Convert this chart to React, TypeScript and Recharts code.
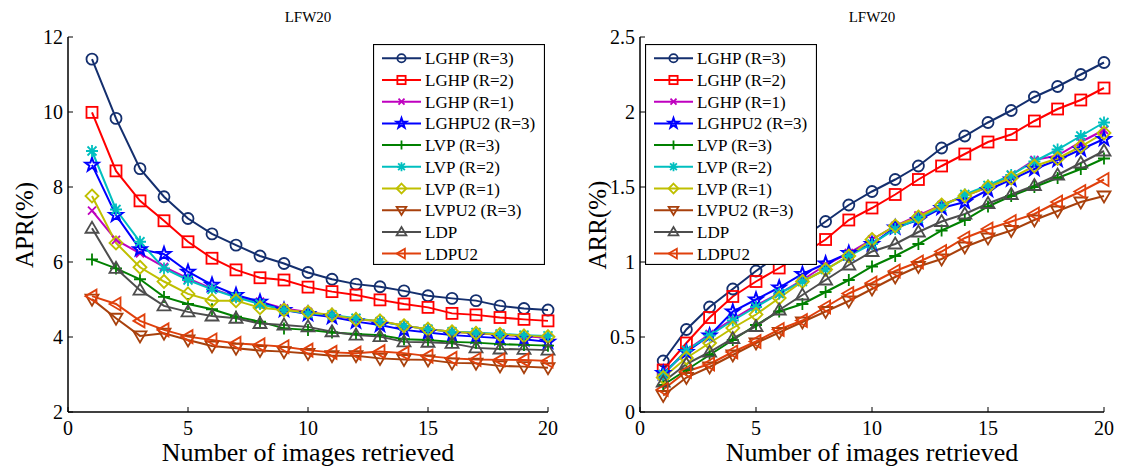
import { LineChart, Line, XAxis, YAxis, Legend } from 'recharts'

const FONT = '"Liberation Serif", "Times New Roman", serif'

const retrieved = [1, 2, 3, 4, 5, 6, 7, 8, 9, 10, 11, 12, 13, 14, 15, 16, 17, 18, 19, 20]
const xTicks = [0, 5, 10, 15, 20]
const aprTicks = [2, 4, 6, 8, 10, 12]
const arrTicks = [0, 0.5, 1, 1.5, 2, 2.5]

// APR (%) on LFW20
const aprLGHP3 = [11.41, 9.83, 8.49, 7.74, 7.16, 6.75, 6.45, 6.16, 5.96, 5.72, 5.54, 5.41, 5.34, 5.23, 5.1, 5.03, 4.97, 4.83, 4.76, 4.72]
const aprLGHP2 = [9.99, 8.43, 7.63, 7.1, 6.54, 6.1, 5.79, 5.58, 5.52, 5.33, 5.21, 5.12, 4.99, 4.88, 4.79, 4.63, 4.59, 4.52, 4.47, 4.43]
const aprLGHP1 = [7.37, 6.59, 6.23, 5.87, 5.56, 5.29, 5.07, 4.94, 4.76, 4.67, 4.57, 4.47, 4.42, 4.3, 4.21, 4.14, 4.1, 4.06, 4.02, 3.98]
const aprLGHPU2 = [8.59, 7.25, 6.34, 6.21, 5.74, 5.39, 5.12, 4.94, 4.72, 4.61, 4.53, 4.41, 4.32, 4.19, 4.12, 4.05, 4.01, 3.97, 3.94, 3.87]
const aprLVP3 = [6.07, 5.83, 5.54, 5.07, 4.88, 4.74, 4.54, 4.41, 4.23, 4.19, 4.12, 4.08, 4.05, 3.94, 3.92, 3.87, 3.85, 3.81, 3.79, 3.77]
const aprLVP2 = [8.96, 7.4, 6.54, 5.83, 5.52, 5.27, 5.06, 4.88, 4.72, 4.63, 4.59, 4.5, 4.41, 4.3, 4.21, 4.14, 4.12, 4.08, 4.05, 4.03]
const aprLVP1 = [7.76, 6.51, 5.86, 5.48, 5.15, 4.97, 4.97, 4.78, 4.72, 4.66, 4.59, 4.47, 4.43, 4.3, 4.21, 4.14, 4.1, 4.07, 4.03, 4.01]
const aprLVPU2 = [5.01, 4.5, 4.03, 4.1, 3.92, 3.76, 3.7, 3.64, 3.61, 3.56, 3.5, 3.5, 3.43, 3.4, 3.39, 3.31, 3.3, 3.23, 3.21, 3.18]
const aprLDP = [6.9, 5.83, 5.25, 4.83, 4.67, 4.56, 4.5, 4.36, 4.32, 4.27, 4.14, 4.05, 4.01, 3.87, 3.86, 3.83, 3.71, 3.68, 3.67, 3.65]
const aprLDPU2 = [5.09, 4.88, 4.43, 4.19, 4.01, 3.92, 3.83, 3.79, 3.74, 3.65, 3.59, 3.57, 3.61, 3.57, 3.49, 3.43, 3.4, 3.39, 3.39, 3.36]

// ARR (%) on LFW20
const arrLGHP3 = [0.34, 0.55, 0.7, 0.82, 0.94, 1.05, 1.16, 1.27, 1.38, 1.47, 1.55, 1.64, 1.76, 1.84, 1.93, 2.01, 2.1, 2.17, 2.25, 2.33]
const arrLGHP2 = [0.28, 0.46, 0.63, 0.77, 0.87, 0.96, 1.05, 1.15, 1.28, 1.36, 1.45, 1.55, 1.64, 1.72, 1.8, 1.85, 1.94, 2.02, 2.08, 2.16]
const arrLGHP1 = [0.25, 0.41, 0.52, 0.62, 0.71, 0.79, 0.88, 0.98, 1.06, 1.15, 1.24, 1.31, 1.38, 1.44, 1.5, 1.58, 1.68, 1.71, 1.8, 1.88]
const arrLGHPU2 = [0.26, 0.4, 0.51, 0.67, 0.75, 0.83, 0.92, 0.99, 1.06, 1.12, 1.23, 1.28, 1.36, 1.4, 1.48, 1.55, 1.62, 1.68, 1.75, 1.82]
const arrLVP3 = [0.18, 0.28, 0.38, 0.48, 0.58, 0.67, 0.72, 0.8, 0.88, 0.97, 1.04, 1.12, 1.21, 1.28, 1.37, 1.44, 1.5, 1.56, 1.62, 1.69]
const arrLVP2 = [0.25, 0.41, 0.51, 0.61, 0.7, 0.79, 0.87, 0.95, 1.04, 1.12, 1.22, 1.29, 1.37, 1.45, 1.51, 1.58, 1.67, 1.75, 1.84, 1.93]
const arrLVP1 = [0.23, 0.36, 0.46, 0.56, 0.65, 0.76, 0.87, 0.95, 1.04, 1.15, 1.24, 1.3, 1.38, 1.44, 1.5, 1.56, 1.64, 1.69, 1.77, 1.86]
const arrLVPU2 = [0.11, 0.23, 0.3, 0.38, 0.46, 0.53, 0.6, 0.67, 0.74, 0.82, 0.9, 0.97, 1.02, 1.1, 1.16, 1.21, 1.28, 1.34, 1.4, 1.44]
const arrLDP = [0.2, 0.32, 0.4, 0.49, 0.57, 0.68, 0.78, 0.88, 0.98, 1.07, 1.12, 1.2, 1.27, 1.32, 1.39, 1.45, 1.51, 1.58, 1.66, 1.74]
const arrLDPU2 = [0.15, 0.27, 0.32, 0.4, 0.47, 0.55, 0.61, 0.7, 0.79, 0.86, 0.94, 1.0, 1.07, 1.16, 1.22, 1.27, 1.32, 1.4, 1.47, 1.55]

const series = [
  { key: 'LGHP3', name: 'LGHP (R=3)', color: '#142f6e', shape: 'circle', apr: aprLGHP3, arr: arrLGHP3 },
  { key: 'LGHP2', name: 'LGHP (R=2)', color: '#ff0000', shape: 'square', apr: aprLGHP2, arr: arrLGHP2 },
  { key: 'LGHP1', name: 'LGHP (R=1)', color: '#bf00bf', shape: 'x', apr: aprLGHP1, arr: arrLGHP1 },
  { key: 'LGHPU2', name: 'LGHPU2 (R=3)', color: '#0000ff', shape: 'star', apr: aprLGHPU2, arr: arrLGHPU2 },
  { key: 'LVP3', name: 'LVP (R=3)', color: '#008000', shape: 'plus', apr: aprLVP3, arr: arrLVP3 },
  { key: 'LVP2', name: 'LVP (R=2)', color: '#00bfbf', shape: 'asterisk', apr: aprLVP2, arr: arrLVP2 },
  { key: 'LVP1', name: 'LVP (R=1)', color: '#bfbf00', shape: 'diamond', apr: aprLVP1, arr: arrLVP1 },
  { key: 'LVPU2', name: 'LVPU2 (R=3)', color: '#a8400c', shape: 'triDown', apr: aprLVPU2, arr: arrLVPU2 },
  { key: 'LDP', name: 'LDP', color: '#4d4d4d', shape: 'triUp', apr: aprLDP, arr: arrLDP },
  { key: 'LDPU2', name: 'LDPU2', color: '#e0400c', shape: 'triLeft', apr: aprLDPU2, arr: arrLDPU2 },
]

const aprData = retrieved.map((n, i) => {
  const row: any = { n }
  series.forEach((s) => (row[s.key] = s.apr[i]))
  return row
})
const arrData = retrieved.map((n, i) => {
  const row: any = { n }
  series.forEach((s) => (row[s.key] = s.arr[i]))
  return row
})

function Marker({ shape, cx, cy, color, k = 1 }: any) {
  const p = { fill: 'none', stroke: color, strokeWidth: 1.8 }
  const r = 5.5 * k
  switch (shape) {
    case 'circle':
      return <circle cx={cx} cy={cy} r={r} {...p} />
    case 'square':
      return <rect x={cx - r} y={cy - r} width={2 * r} height={2 * r} {...p} />
    case 'x':
      return <path d={`M${cx - 4 * k},${cy - 4 * k}L${cx + 4 * k},${cy + 4 * k}M${cx - 4 * k},${cy + 4 * k}L${cx + 4 * k},${cy - 4 * k}`} {...p} />
    case 'plus':
      return <path d={`M${cx - 6 * k},${cy}L${cx + 6 * k},${cy}M${cx},${cy - 6 * k}L${cx},${cy + 6 * k}`} {...p} />
    case 'asterisk':
      return (
        <path
          d={`M${cx - 6 * k},${cy}L${cx + 6 * k},${cy}M${cx},${cy - 6 * k}L${cx},${cy + 6 * k}M${cx - 4.5 * k},${cy - 4.5 * k}L${cx + 4.5 * k},${cy + 4.5 * k}M${cx - 4.5 * k},${cy + 4.5 * k}L${cx + 4.5 * k},${cy - 4.5 * k}`}
          {...p}
        />
      )
    case 'star': {
      const pts = []
      for (let i = 0; i < 10; i++) {
        const rad = i % 2 === 0 ? 7 * k : 2.8 * k
        const a = -Math.PI / 2 + (i * Math.PI) / 5
        pts.push(`${cx + rad * Math.cos(a)},${cy + rad * Math.sin(a)}`)
      }
      return <polygon points={pts.join(' ')} {...p} strokeWidth={2} />
    }
    case 'diamond':
      return <polygon points={`${cx},${cy - 6.5 * k} ${cx + 6.5 * k},${cy} ${cx},${cy + 6.5 * k} ${cx - 6.5 * k},${cy}`} {...p} />
    case 'triDown':
      return <polygon points={`${cx - 6.5 * k},${cy - 4.5 * k} ${cx + 6.5 * k},${cy - 4.5 * k} ${cx},${cy + 6.5 * k}`} {...p} />
    case 'triUp':
      return <polygon points={`${cx - 6.5 * k},${cy + 4.5 * k} ${cx + 6.5 * k},${cy + 4.5 * k} ${cx},${cy - 6.5 * k}`} {...p} />
    case 'triLeft':
      return <polygon points={`${cx - 6.5 * k},${cy} ${cx + 4.5 * k},${cy - 6.5 * k} ${cx + 4.5 * k},${cy + 6.5 * k}`} {...p} />
  }
  return null
}

const dotFor = (s: any) => (props: any) => (
  <Marker key={`${s.key}-${props.index}`} shape={s.shape} cx={props.cx} cy={props.cy} color={s.color} />
)

const BoxLegend = () => {
  const rowH = 21.7
  return (
    <svg width={172} height={221} style={{ display: 'block' }}>
      <rect x={0.5} y={0.5} width={171} height={220} fill="#fff" stroke="#000" strokeWidth={1.2} />
      {series.map((s, i) => {
        const y = 14.3 + i * rowH
        return (
          <g key={s.key}>
            <line x1={9} x2={48} y1={y} y2={y} stroke={s.color} strokeWidth={2} />
            <Marker shape={s.shape} cx={28.5} cy={y} color={s.color} k={0.75} />
            <text x={52} y={y + 6} fontSize={17} fontFamily={FONT} fill="#000">
              {s.name}
            </text>
          </g>
        )
      })}
    </svg>
  )
}

const tickStyle = { fill: '#000', fontSize: 20, fontFamily: FONT }
const axisLine = { stroke: '#000', strokeWidth: 1.5 }

function Panel({ data, yDomain, yTicks, yWidth, width, marginRight, legendLeft }: any) {
  return (
    <LineChart width={width} height={468} data={data} margin={{ top: 37, right: marginRight, bottom: 0, left: 0 }}>
      <XAxis
        dataKey="n"
        type="number"
        domain={[0, 20]}
        ticks={xTicks}
        tickSize={-5}
        tickMargin={14}
        tick={tickStyle}
        axisLine={axisLine}
        tickLine={{ stroke: '#000' }}
        height={56}
        interval={0}
      />
      <XAxis
        xAxisId="top"
        orientation="top"
        dataKey="n"
        type="number"
        domain={[0, 20]}
        ticks={xTicks}
        tickSize={-5}
        tick={false}
        axisLine={axisLine}
        tickLine={{ stroke: '#000' }}
        height={0}
      />
      <YAxis
        type="number"
        domain={yDomain}
        ticks={yTicks}
        tickSize={-5}
        tickMargin={10}
        tick={tickStyle}
        axisLine={axisLine}
        tickLine={{ stroke: '#000' }}
        width={yWidth}
        interval={0}
      />
      <YAxis
        yAxisId="right"
        orientation="right"
        type="number"
        domain={yDomain}
        ticks={yTicks}
        tickSize={-5}
        tick={false}
        axisLine={axisLine}
        tickLine={{ stroke: '#000' }}
        width={0}
      />
      {series.map((s) => (
        <Line
          key={s.key}
          dataKey={s.key}
          name={s.name}
          type="linear"
          stroke={s.color}
          strokeWidth={2}
          dot={dotFor(s)}
          activeDot={false}
          isAnimationActive={false}
        />
      ))}
      <Legend
        layout="vertical"
        align="center"
        verticalAlign="middle"
        content={<BoxLegend />}
        wrapperStyle={{ left: legendLeft, top: 44, width: 172, height: 221 }}
      />
    </LineChart>
  )
}

export default function App() {
  return (
    <div style={{ position: 'absolute', left: 0, top: 0, width: 1121, height: 468, background: '#fff', fontFamily: FONT }}>
      <div style={{ position: 'absolute', left: 0, top: 0 }}>
        <Panel data={aprData} yDomain={[2, 12]} yTicks={aprTicks} yWidth={68} width={560} marginRight={12} legendLeft={373} />
      </div>
      <div style={{ position: 'absolute', left: 560, top: 0 }}>
        <Panel data={arrData} yDomain={[0, 2.5]} yTicks={arrTicks} yWidth={80} width={561} marginRight={17} legendLeft={85} />
      </div>
      <svg width={1121} height={468} style={{ position: 'absolute', left: 0, top: 0, pointerEvents: 'none' }}>
        <g fontFamily={FONT} fill="#000">
          <text x={308} y={22} fontSize={15} textAnchor="middle">LFW20</text>
          <text x={872} y={22} fontSize={15} textAnchor="middle">LFW20</text>
          <text x={308} y={461} fontSize={26} textAnchor="middle">Number of images retrieved</text>
          <text x={872} y={461} fontSize={26} textAnchor="middle">Number of images retrieved</text>
          <text transform="translate(33,225) rotate(-90)" fontSize={25} textAnchor="middle">APR(%)</text>
          <text transform="translate(606,225) rotate(-90)" fontSize={25} textAnchor="middle">ARR(%)</text>
        </g>
      </svg>
    </div>
  )
}
